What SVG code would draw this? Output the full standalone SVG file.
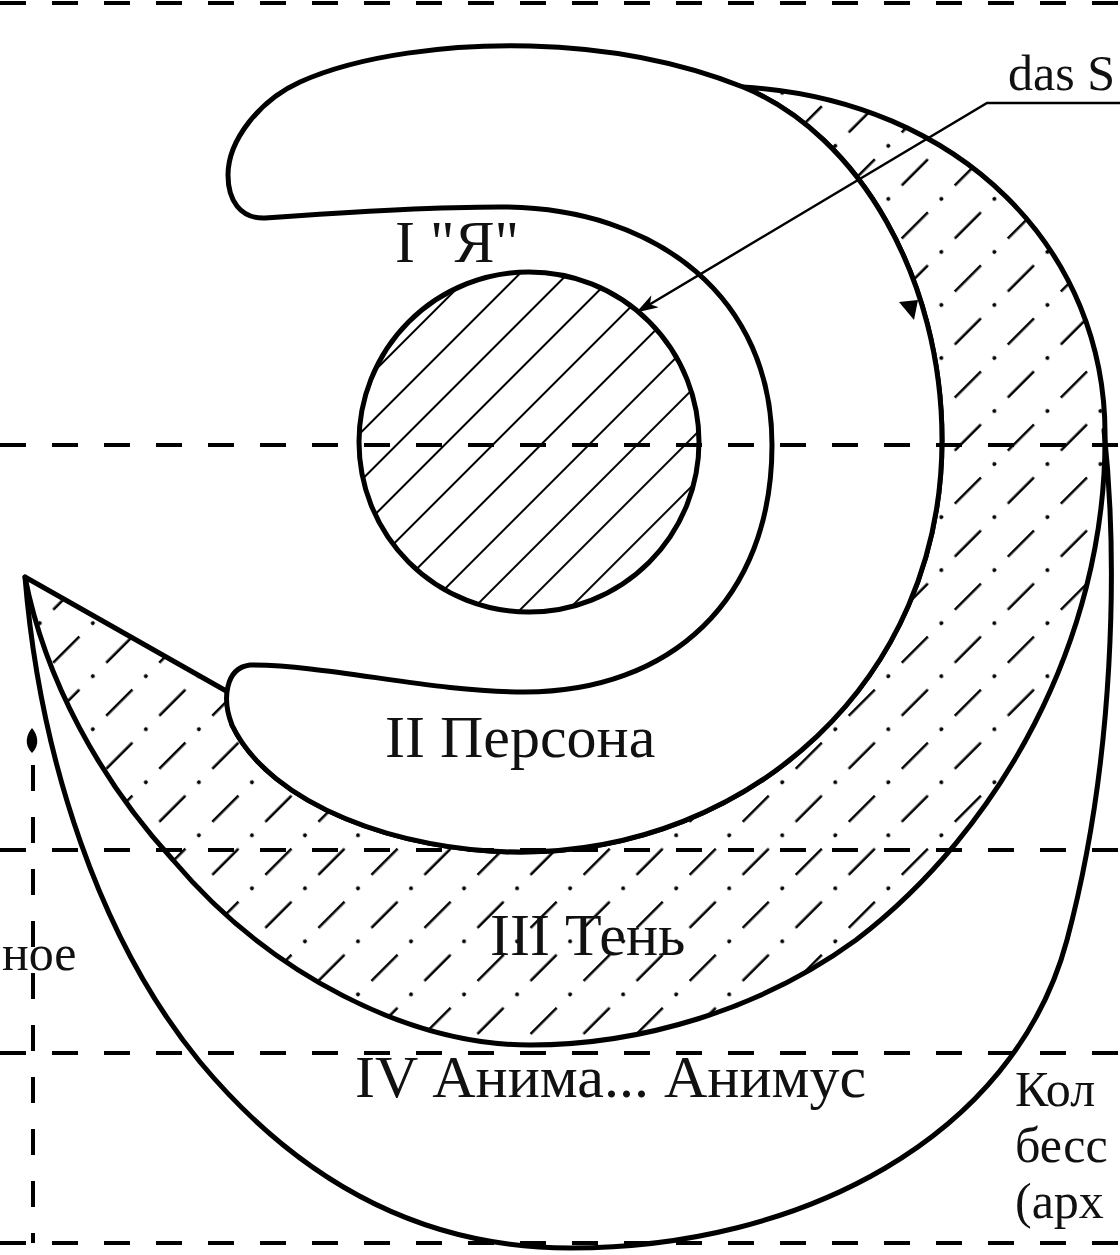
<svg xmlns="http://www.w3.org/2000/svg" width="1120" height="1255" viewBox="0 0 1120 1255">
<style>
.out{fill:none;stroke:#000;stroke-width:5;stroke-linejoin:round;stroke-linecap:round}
.dash{fill:none;stroke:#000;stroke-width:4;stroke-dasharray:26 26}
.lbl{font-family:"Liberation Serif","Times New Roman",serif;font-size:60px;fill:#111}
.side{font-family:"Liberation Serif","Times New Roman",serif;font-size:50px;fill:#111}
.hl{stroke:#000;stroke-width:2}
.sl{stroke:#000;stroke-width:2.6}
</style>
<defs>
<pattern id="circHatch" patternUnits="userSpaceOnUse" width="20" height="34" patternTransform="rotate(-45)">
<line class="hl" x1="0" y1="17" x2="20" y2="17"/>
</pattern>
<pattern id="shadowHatch" patternUnits="userSpaceOnUse" width="75" height="75" patternTransform="rotate(-45)">
<line class="sl" x1="0" y1="18.75" x2="18.5" y2="18.75"/>
<line class="sl" x1="56.5" y1="18.75" x2="75" y2="18.75"/>
<circle cx="37.5" cy="18.75" r="2"/>
<line class="sl" x1="19" y1="56.25" x2="56" y2="56.25"/>
<circle cx="0" cy="56.25" r="2"/>
<circle cx="75" cy="56.25" r="2"/>
</pattern>
<marker id="arr" viewBox="0 0 22 14" refX="21" refY="7" markerWidth="22" markerHeight="14" orient="auto" markerUnits="userSpaceOnUse">
<path d="M0,0 L22,7 L0,14 L6,7 Z" fill="#000"/>
</marker>
</defs>
<rect width="1120" height="1255" fill="#fff"/>

<g id="anima">
<path class="out" d="M1104,430 C1118,560 1115,760 1067,940 C1014,1138 800,1248 570,1248 C410,1248 290,1170 200,1062 C100,940 40,760 25,577"/>
</g>

<g id="shadow">
<path fill="url(#shadowHatch)" stroke="#000" stroke-width="5" stroke-linejoin="round" d="M743,87 C960,100 1108,250 1105,440 C1105,640 1000,830 856,940 C760,1010 640,1045 530,1045 C410,1045 270,975 173,860 C100,780 45,680 25,577 L228,692 L232,725 C270,805 400,852 520,852 C750,852 942,680 942,440 C942,280 860,135 743,87 Z"/>
</g>

<g id="persona">
<path fill="#fff" stroke="#000" stroke-width="5" stroke-linejoin="round" d="M228,175 C228,140 260,100 300,82 C360,55 450,44 530,46 C610,48 680,62 743,87 C860,135 942,280 942,440 C942,680 750,852 520,852 C400,852 270,805 232,725 C222,700 225,668 250,665 C330,665 430,692 525,692 C670,692 772,600 772,445 C772,300 660,207 500,207 C420,207 320,214 265,218 C240,219 228,200 228,175 Z"/>
<path d="M899,302 L918,300 L914,320 Z" fill="#000"/>
</g>

<g id="self-circle">
<circle cx="529" cy="442" r="170" fill="url(#circHatch)" stroke="#000" stroke-width="5"/>
</g>

<g id="guides">
<line class="dash" x1="0" y1="3" x2="1120" y2="3"/>
<line class="dash" x1="0" y1="445" x2="1120" y2="445"/>
<line class="dash" x1="0" y1="850" x2="1120" y2="850"/>
<line class="dash" x1="0" y1="1053" x2="1120" y2="1053"/>
<line class="dash" x1="0" y1="1243" x2="1120" y2="1243"/>
<line class="dash" x1="33" y1="765" x2="33" y2="1243"/>
<path d="M32,728 C38,735 40,745 32,753 C24,745 26,735 32,728 Z" fill="#000"/>
</g>

<g id="connectors">
<polyline points="1120,103 987,103 637,312" fill="none" stroke="#000" stroke-width="2.5" marker-end="url(#arr)"/>
</g>

<g id="labels">
<text class="side" x="1008" y="90">das S</text>
<text class="lbl" x="395" y="262">I "Я"</text>
<text class="lbl" x="385" y="757">II Персона</text>
<text class="lbl" x="490" y="955">III Тень</text>
<text class="lbl" x="355" y="1097">IV Анима... Анимус</text>
<text class="side" x="1015" y="1106">Кол</text>
<text class="side" x="1015" y="1162">бесс</text>
<text class="side" x="1015" y="1218">(арх</text>
<text class="side" x="2" y="970">ное</text>
</g>
</svg>
